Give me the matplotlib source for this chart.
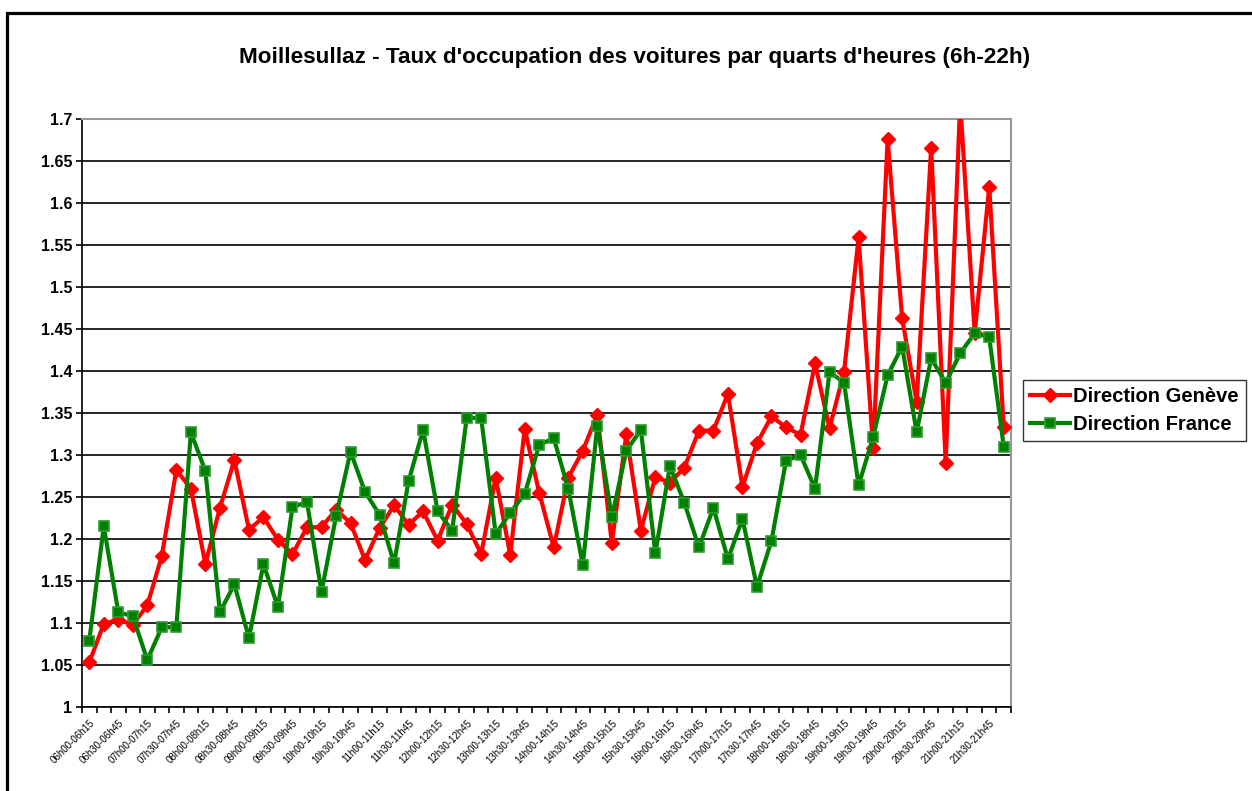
import matplotlib
matplotlib.use('Agg')
import matplotlib.pyplot as plt
from matplotlib.patches import Rectangle

plt.rcParams['font.family'] = ['Liberation Sans', 'DejaVu Sans']

# quarter-hour slots 6h-22h
slots = [
    "06h00-06h15", "06h15-06h30", "06h30-06h45", "06h45-07h00",
    "07h00-07h15", "07h15-07h30", "07h30-07h45", "07h45-08h00",
    "08h00-08h15", "08h15-08h30", "08h30-08h45", "08h45-09h00",
    "09h00-09h15", "09h15-09h30", "09h30-09h45", "09h45-10h00",
    "10h00-10h15", "10h15-10h30", "10h30-10h45", "10h45-11h00",
    "11h00-11h15", "11h15-11h30", "11h30-11h45", "11h45-12h00",
    "12h00-12h15", "12h15-12h30", "12h30-12h45", "12h45-13h00",
    "13h00-13h15", "13h15-13h30", "13h30-13h45", "13h45-14h00",
    "14h00-14h15", "14h15-14h30", "14h30-14h45", "14h45-15h00",
    "15h00-15h15", "15h15-15h30", "15h30-15h45", "15h45-16h00",
    "16h00-16h15", "16h15-16h30", "16h30-16h45", "16h45-17h00",
    "17h00-17h15", "17h15-17h30", "17h30-17h45", "17h45-18h00",
    "18h00-18h15", "18h15-18h30", "18h30-18h45", "18h45-19h00",
    "19h00-19h15", "19h15-19h30", "19h30-19h45", "19h45-20h00",
    "20h00-20h15", "20h15-20h30", "20h30-20h45", "20h45-21h00",
    "21h00-21h15", "21h15-21h30", "21h30-21h45", "21h45-22h00",
]

geneve = [1.053, 1.099, 1.104, 1.098, 1.121, 1.180, 1.282, 1.260,
          1.170, 1.237, 1.294, 1.211, 1.226, 1.199, 1.182, 1.214,
          1.214, 1.235, 1.219, 1.175, 1.213, 1.240, 1.217, 1.233,
          1.198, 1.241, 1.218, 1.182, 1.273, 1.181, 1.331, 1.255,
          1.190, 1.273, 1.305, 1.348, 1.195, 1.325, 1.210, 1.274,
          1.267, 1.285, 1.329, 1.329, 1.373, 1.262, 1.314, 1.346,
          1.333, 1.324, 1.409, 1.332, 1.399, 1.559, 1.308, 1.676,
          1.463, 1.363, 1.666, 1.291, 1.720, 1.445, 1.619, 1.333]

france = [1.079, 1.215, 1.113, 1.108, 1.056, 1.095, 1.095, 1.327,
          1.281, 1.113, 1.146, 1.082, 1.170, 1.119, 1.238, 1.244,
          1.137, 1.227, 1.304, 1.256, 1.229, 1.171, 1.269, 1.330,
          1.233, 1.210, 1.344, 1.344, 1.206, 1.231, 1.254, 1.312,
          1.320, 1.260, 1.169, 1.335, 1.226, 1.305, 1.330, 1.183,
          1.287, 1.243, 1.190, 1.237, 1.176, 1.224, 1.143, 1.198,
          1.293, 1.300, 1.260, 1.399, 1.386, 1.264, 1.321, 1.395,
          1.429, 1.327, 1.415, 1.386, 1.421, 1.445, 1.440, 1.310]

W, H = 1252, 791
fig = plt.figure(figsize=(W / 100, H / 100), dpi=100)
ax = fig.add_axes([82 / W, 1 - 707 / H, (1011 - 82) / W, (707 - 119) / H])

x = list(range(len(slots)))
ax.plot(x, geneve, color='#ff0000', lw=3, marker='D', ms=7.5,
        mec='#ff0000', mfc='#ff0000', label='Direction Genève', zorder=3)
ax.plot(x, france, color='#008000', lw=3, marker='s', ms=7,
        mec='#2f9a2f', mfc='#008000', mew=1.2, label='Direction France', zorder=4)

ax.set_xlim(-0.5, len(slots) - 0.5)
ax.set_ylim(1, 1.7)

yt = [1 + 0.05 * k for k in range(15)]
ax.set_yticks(yt)
ax.set_yticklabels(['%g' % round(v, 2) for v in yt], fontsize=11.5, fontweight='bold')
ax.yaxis.grid(True, color='black', lw=1.2)
ax.set_axisbelow(True)

# ticks between categories, labels on every second category
ax.set_xticks([k - 0.5 for k in range(len(slots) + 1)])
ax.set_xticklabels([])
ax.set_xticks(x[::2], minor=True)
ax.set_xticklabels(slots[::2], minor=True, rotation=45, ha='right',
                   rotation_mode='anchor', fontsize=7)
ax.tick_params(axis='x', which='major', length=4, width=1.2, direction='out')
ax.tick_params(axis='x', which='minor', length=0, pad=8)
ax.tick_params(axis='y', length=4, width=1.2, pad=3)

for s in ['top', 'right']:
    ax.spines[s].set_color('#999999')
    ax.spines[s].set_linewidth(1.5)
for s in ['left', 'bottom']:
    ax.spines[s].set_color('black')
    ax.spines[s].set_linewidth(1.2)

fig.text(635 / W, 1 - 57 / H,
         "Moillesullaz - Taux d'occupation des voitures par quarts d'heures (6h-22h)",
         ha='center', va='center', fontsize=16.2, fontweight='bold')

leg = fig.legend(loc='upper left', bbox_to_anchor=(1023 / W, 1 - 380 / H),
                 borderaxespad=0, fancybox=False, edgecolor='black',
                 prop={'weight': 'bold', 'size': 14.5}, handlelength=2.0,
                 handletextpad=0.15, borderpad=0.35, labelspacing=0.45)
leg.get_frame().set_linewidth(1)

# chart area border (left/top visible)
fig.patches.append(Rectangle((7 / W, -0.1), 1.2, (791 - 13) / H + 0.1,
                             transform=fig.transFigure, fill=False,
                             lw=2.3, edgecolor='black'))

fig.savefig('out.png', dpi=100)
